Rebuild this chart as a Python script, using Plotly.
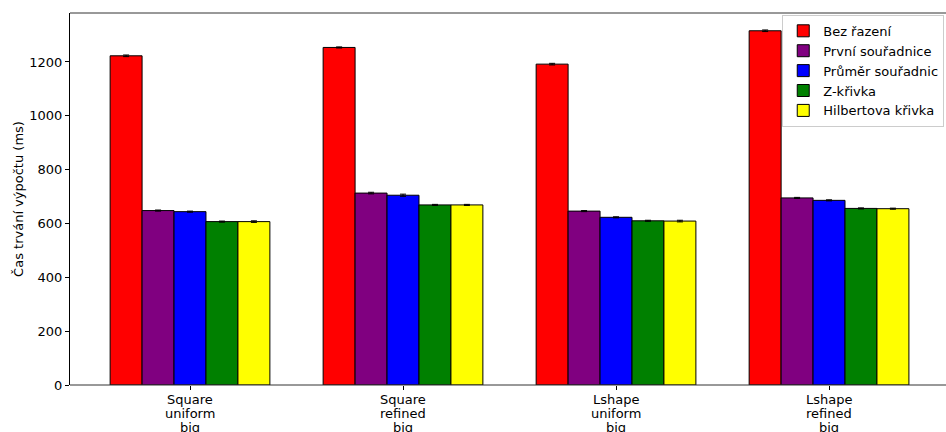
import plotly.graph_objects as go

categories = ["Square uniform big", "Square refined big",
              "Lshape uniform big", "Lshape refined big"]
series_names = ["Bez řazení", "První souřadnice", "Průměr souřadnic",
                "Z-křivka", "Hilbertova křivka"]
bez_razeni = [1223, 1254, 1192, 1316]
prvni_souradnice = [648, 713, 646, 695]
prumer_souradnic = [644, 705, 623, 686]
z_krivka = [607, 669, 610, 656]
hilbertova_krivka = [607, 669, 609, 655]
errors = [
    [3, 2, 3, 3],
    [2, 3, 2, 2],
    [2, 4, 2, 2],
    [2, 2, 2, 2],
    [3, 2, 3, 2],
]
colors = ["#ff0000", "#800080", "#0000ff", "#008000", "#ffff00"]

values = [bez_razeni, prvni_souradnice, prumer_souradnic, z_krivka, hilbertova_krivka]

fig = go.Figure()
for name, vals, err, col in zip(series_names, values, errors, colors):
    fig.add_trace(go.Bar(
        x=categories, y=vals, name=name,
        marker=dict(color=col, line=dict(color="black", width=1)),
        error_y=dict(type="data", array=err, color="black", thickness=1, width=3),
    ))

font = dict(family="DejaVu Sans", size=13, color="black")

# stacked category labels, one annotation per word for tight line spacing
for cat in categories:
    for i, word in enumerate(cat.split(" ")):
        fig.add_annotation(x=cat, xref="x", y=0, yref="paper", text=word,
                           showarrow=False, yanchor="middle", font=font,
                           yshift=-14 - 14 * i)

fig.update_layout(
    barmode="group", bargap=0.25, bargroupgap=0,
    width=946, height=432,
    margin=dict(l=70, r=0, t=13, b=47, autoexpand=False),
    plot_bgcolor="white", paper_bgcolor="white",
    font=font,
    showlegend=True,
    legend=dict(x=0.998, y=0.995, xanchor="right", yanchor="top",
                bgcolor="rgba(255,255,255,0.8)", bordercolor="#cccccc", borderwidth=1,
                font=dict(family="DejaVu Sans", size=13, color="black"),
                tracegroupgap=0, itemwidth=30),
    xaxis=dict(range=[-0.5634, 3.508], domain=[0, 0.99], showline=False,
               ticks="outside", ticklen=4, tickcolor="black",
               showgrid=False, showticklabels=False, automargin=False),
    yaxis=dict(range=[0, 1382], showline=True, linecolor="black", linewidth=1,
               ticks="outside", ticklen=4, tickcolor="black", showgrid=False,
               zeroline=False, tickvals=[0, 200, 400, 600, 800, 1000, 1200],
               tickfont=font, automargin=False,
               title=dict(text="Čas trvání výpočtu (ms)", font=font, standoff=2)),
    shapes=[
        # top and bottom spines across the full plotting width
        dict(type="line", xref="paper", yref="paper", x0=0, x1=1, y0=1, y1=1,
             line=dict(color="#333333", width=1)),
        dict(type="line", xref="paper", yref="paper", x0=0, x1=1, y0=0, y1=0,
             line=dict(color="#333333", width=1)),
    ],
)

fig.write_html("out.html")
